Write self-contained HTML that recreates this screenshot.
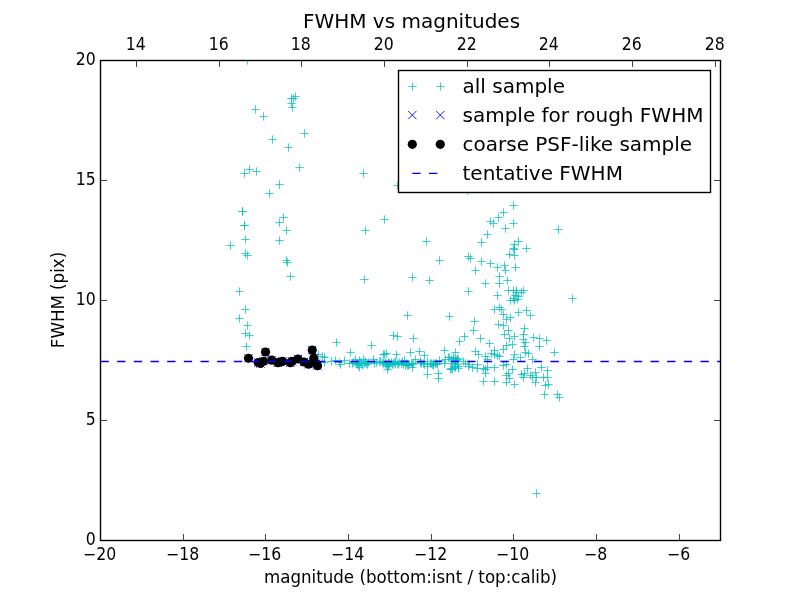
<!DOCTYPE html>
<html><head><meta charset="utf-8"><title>FWHM vs magnitudes</title>
<style>
html,body{margin:0;padding:0;background:#fff;}
body{width:800px;height:600px;overflow:hidden;}
svg{display:block;}
text{font-family:"DejaVu Sans","Liberation Sans",sans-serif;fill:#000;}
</style></head><body>
<svg width="800" height="600" viewBox="0 0 800 600">
<rect width="800" height="600" fill="#fff"/>
<defs><clipPath id="ax"><rect x="100" y="60" width="620" height="480"/></clipPath></defs>
<g clip-path="url(#ax)">
<path d="M243.33 60.5H251.67M247.5 56.33V64.67M251.33 109.5H259.67M255.5 105.33V113.67M259.33 116.5H267.67M263.5 112.33V120.67M291.33 96.5H299.67M295.5 92.33V100.67M289.33 98.5H297.67M293.5 94.33V102.67M287.33 98.5H295.67M291.5 94.33V102.67M287.33 103.5H295.67M291.5 99.33V107.67M288.33 107.5H296.67M292.5 103.33V111.67M300.33 133.5H308.67M304.5 129.33V137.67M268.33 139.5H276.67M272.5 135.33V143.67M284.33 147.5H292.67M288.5 143.33V151.67M295.33 167.5H303.67M299.5 163.33V171.67M245.33 169.5H253.67M249.5 165.33V173.67M240.33 173.5H248.67M244.5 169.33V177.67M252.33 171.5H260.67M256.5 167.33V175.67M359.33 173.5H367.67M363.5 169.33V177.67M275.33 184.5H283.67M279.5 180.33V188.67M265.33 193.5H273.67M269.5 189.33V197.67M393.33 185.5H401.67M397.5 181.33V189.67M238.33 211.5H246.67M242.5 207.33V215.67M240.33 225.5H248.67M244.5 221.33V229.67M241.33 239.5H249.67M245.5 235.33V243.67M226.33 245.5H234.67M230.5 241.33V249.67M241.33 253.5H249.67M245.5 249.33V257.67M243.33 255.5H251.67M247.5 251.33V259.67M279.33 217.5H287.67M283.5 213.33V221.67M275.33 222.5H283.67M279.5 218.33V226.67M282.33 230.5H290.67M286.5 226.33V234.67M275.33 240.5H283.67M279.5 236.33V244.67M282.33 260.5H290.67M286.5 256.33V264.67M283.33 262.5H291.67M287.5 258.33V266.67M286.33 276.5H294.67M290.5 272.33V280.67M380.33 219.5H388.67M384.5 215.33V223.67M361.33 230.5H369.67M365.5 226.33V234.67M360.33 279.5H368.67M364.5 275.33V283.67M235.33 291.5H243.67M239.5 287.33V295.67M241.33 309.5H249.67M245.5 305.33V313.67M235.33 318.5H243.67M239.5 314.33V322.67M243.33 325.5H251.67M247.5 321.33V329.67M241.33 333.5H249.67M245.5 329.33V337.67M245.33 335.5H253.67M249.5 331.33V339.67M242.33 346.5H250.67M246.5 342.33V350.67M332.33 342.5H340.67M336.5 338.33V346.67M367.33 345.5H375.67M371.5 341.33V349.67M346.33 352.5H354.67M350.5 348.33V356.67M314.33 354.5H322.67M318.5 350.33V358.67M318.33 356.5H326.67M322.5 352.33V360.67M320.33 357.5H328.67M324.5 353.33V361.67M320.33 362.5H328.67M324.5 358.33V366.67M327.33 361.5H335.67M331.5 357.33V365.67M331.33 360.5H339.67M335.5 356.33V364.67M335.33 362.5H343.67M339.5 358.33V366.67M336.33 364.5H344.67M340.5 360.33V368.67M340.33 360.5H348.67M344.5 356.33V364.67M345.33 363.5H353.67M349.5 359.33V367.67M348.33 363.5H356.67M352.5 359.33V367.67M351.33 359.5H359.67M355.5 355.33V363.67M353.33 364.5H361.67M357.5 360.33V368.67M355.33 360.5H363.67M359.5 356.33V364.67M355.33 367.5H363.67M359.5 363.33V371.67M357.33 363.5H365.67M361.5 359.33V367.67M359.33 359.5H367.67M363.5 355.33V363.67M360.33 363.5H368.67M364.5 359.33V367.67M363.33 364.5H371.67M367.5 360.33V368.67M369.33 359.5H377.67M373.5 355.33V363.67M370.33 363.5H378.67M374.5 359.33V367.67M375.33 361.5H383.67M379.5 357.33V365.67M379.33 354.5H387.67M383.5 350.33V358.67M382.33 353.5H390.67M386.5 349.33V357.67M378.33 362.5H386.67M382.5 358.33V366.67M381.33 363.5H389.67M385.5 359.33V367.67M383.33 365.5H391.67M387.5 361.33V369.67M385.33 363.5H393.67M389.5 359.33V367.67M389.33 335.5H397.67M393.5 331.33V339.67M393.33 336.5H401.67M397.5 332.33V340.67M409.33 338.5H417.67M413.5 334.33V342.67M460.33 336.5H468.67M464.5 332.33V340.67M455.33 341.5H463.67M459.5 337.33V345.67M392.33 354.5H400.67M396.5 350.33V358.67M406.33 352.5H414.67M410.5 348.33V356.67M415.33 351.5H423.67M419.5 347.33V355.67M420.33 355.5H428.67M424.5 351.33V359.67M440.33 350.5H448.67M444.5 346.33V354.67M451.33 352.5H459.67M455.5 348.33V356.67M423.33 374.5H431.67M427.5 370.33V378.67M434.33 373.5H442.67M438.5 369.33V377.67M434.33 378.5H442.67M438.5 374.33V382.67M387.33 362.5H395.67M391.5 358.33V366.67M389.33 363.5H397.67M393.5 359.33V367.67M391.33 361.5H399.67M395.5 357.33V365.67M393.33 363.5H401.67M397.5 359.33V367.67M395.33 362.5H403.67M399.5 358.33V366.67M398.33 361.5H406.67M402.5 357.33V365.67M400.33 360.5H408.67M404.5 356.33V364.67M401.33 365.5H409.67M405.5 361.33V369.67M404.33 365.5H412.67M408.5 361.33V369.67M408.33 367.5H416.67M412.5 363.33V371.67M409.33 363.5H417.67M413.5 359.33V367.67M411.33 359.5H419.67M415.5 355.33V363.67M416.33 361.5H424.67M420.5 357.33V365.67M420.33 364.5H428.67M424.5 360.33V368.67M423.33 366.5H431.67M427.5 362.33V370.67M423.33 361.5H431.67M427.5 357.33V365.67M427.33 363.5H435.67M431.5 359.33V367.67M429.33 365.5H437.67M433.5 361.33V369.67M432.33 363.5H440.67M436.5 359.33V367.67M435.33 360.5H443.67M439.5 356.33V364.67M440.33 363.5H448.67M444.5 359.33V367.67M441.33 359.5H449.67M445.5 355.33V363.67M444.33 357.5H452.67M448.5 353.33V361.67M446.33 369.5H454.67M450.5 365.33V373.67M448.33 369.5H456.67M452.5 365.33V373.67M449.33 358.5H457.67M453.5 354.33V362.67M450.33 364.5H458.67M454.5 360.33V368.67M451.33 366.5H459.67M455.5 362.33V370.67M452.33 360.5H460.67M456.5 356.33V364.67M454.33 368.5H462.67M458.5 364.33V372.67M454.33 359.5H462.67M458.5 355.33V363.67M459.33 361.5H467.67M463.5 357.33V365.67M461.33 363.5H469.67M465.5 359.33V367.67M464.33 366.5H472.67M468.5 362.33V370.67M465.33 364.5H473.67M469.5 360.33V368.67M476.33 338.5H484.67M480.5 334.33V342.67M485.33 343.5H493.67M489.5 339.33V347.67M471.33 351.5H479.67M475.5 347.33V355.67M474.33 354.5H482.67M478.5 350.33V358.67M481.33 356.5H489.67M485.5 352.33V360.67M483.33 359.5H491.67M487.5 355.33V363.67M487.33 353.5H495.67M491.5 349.33V357.67M490.33 350.5H498.67M494.5 346.33V354.67M490.33 354.5H498.67M494.5 350.33V358.67M493.33 355.5H501.67M497.5 351.33V359.67M495.33 356.5H503.67M499.5 352.33V360.67M499.33 349.5H507.67M503.5 345.33V353.67M502.33 345.5H510.67M506.5 341.33V349.67M505.33 338.5H513.67M509.5 334.33V342.67M508.33 344.5H516.67M512.5 340.33V348.67M510.33 336.5H518.67M514.5 332.33V340.67M510.33 354.5H518.67M514.5 350.33V358.67M509.33 359.5H517.67M513.5 355.33V363.67M516.33 357.5H524.67M520.5 353.33V361.67M519.33 339.5H527.67M523.5 335.33V343.67M521.33 342.5H529.67M525.5 338.33V346.67M520.33 346.5H528.67M524.5 342.33V350.67M521.33 352.5H529.67M525.5 348.33V356.67M524.33 353.5H532.67M528.5 349.33V357.67M528.33 359.5H536.67M532.5 355.33V363.67M529.33 337.5H537.67M533.5 333.33V341.67M535.33 338.5H543.67M539.5 334.33V342.67M535.33 346.5H543.67M539.5 342.33V350.67M542.33 340.5H550.67M546.5 336.33V344.67M473.33 364.5H481.67M477.5 360.33V368.67M473.33 368.5H481.67M477.5 364.33V372.67M468.33 367.5H476.67M472.5 363.33V371.67M479.33 368.5H487.67M483.5 364.33V372.67M481.33 369.5H489.67M485.5 365.33V373.67M481.33 373.5H489.67M485.5 369.33V377.67M483.33 367.5H491.67M487.5 363.33V371.67M490.33 367.5H498.67M494.5 363.33V371.67M479.33 381.5H487.67M483.5 377.33V385.67M490.33 381.5H498.67M494.5 377.33V385.67M499.33 365.5H507.67M503.5 361.33V369.67M502.33 364.5H510.67M506.5 360.33V368.67M502.33 375.5H510.67M506.5 371.33V379.67M502.33 382.5H510.67M506.5 378.33V386.67M504.33 373.5H512.67M508.5 369.33V377.67M505.33 378.5H513.67M509.5 374.33V382.67M508.33 369.5H516.67M512.5 365.33V373.67M510.33 384.5H518.67M514.5 380.33V388.67M517.33 374.5H525.67M521.5 370.33V378.67M519.33 377.5H527.67M523.5 373.33V381.67M520.33 373.5H528.67M524.5 369.33V377.67M523.33 368.5H531.67M527.5 364.33V372.67M526.33 375.5H534.67M530.5 371.33V379.67M528.33 377.5H536.67M532.5 373.33V381.67M531.33 372.5H539.67M535.5 368.33V376.67M531.33 382.5H539.67M535.5 378.33V386.67M532.33 377.5H540.67M536.5 373.33V381.67M537.33 367.5H545.67M541.5 363.33V371.67M539.33 377.5H547.67M543.5 373.33V381.67M543.33 370.5H551.67M547.5 366.33V374.67M543.33 377.5H551.67M547.5 373.33V381.67M541.33 385.5H549.67M545.5 381.33V389.67M544.33 384.5H552.67M548.5 380.33V388.67M540.33 394.5H548.67M544.5 390.33V398.67M463.33 190.5H471.67M467.5 186.33V194.67M487.33 189.5H495.67M491.5 185.33V193.67M509.33 205.5H517.67M513.5 201.33V209.67M499.33 212.5H507.67M503.5 208.33V216.67M494.33 217.5H502.67M498.5 213.33V221.67M486.33 221.5H494.67M490.5 217.33V225.67M489.33 223.5H497.67M493.5 219.33V227.67M509.33 223.5H517.67M513.5 219.33V227.67M501.33 228.5H509.67M505.5 224.33V232.67M483.33 234.5H491.67M487.5 230.33V238.67M477.33 242.5H485.67M481.5 238.33V246.67M554.33 229.5H562.67M558.5 225.33V233.67M422.33 241.5H430.67M426.5 237.33V245.67M514.33 241.5H522.67M518.5 237.33V245.67M510.33 244.5H518.67M514.5 240.33V248.67M509.33 248.5H517.67M513.5 244.33V252.67M522.33 248.5H530.67M526.5 244.33V252.67M505.33 254.5H513.67M509.5 250.33V258.67M510.33 255.5H518.67M514.5 251.33V259.67M464.33 256.5H472.67M468.5 252.33V260.67M466.33 258.5H474.67M470.5 254.33V262.67M435.33 260.5H443.67M439.5 256.33V264.67M477.33 261.5H485.67M481.5 257.33V265.67M486.33 263.5H494.67M490.5 259.33V267.67M493.33 267.5H501.67M497.5 263.33V271.67M500.33 265.5H508.67M504.5 261.33V269.67M501.33 270.5H509.67M505.5 266.33V274.67M511.33 267.5H519.67M515.5 263.33V271.67M471.33 270.5H479.67M475.5 266.33V274.67M408.33 277.5H416.67M412.5 273.33V281.67M425.33 280.5H433.67M429.5 276.33V284.67M495.33 276.5H503.67M499.5 272.33V280.67M503.33 280.5H511.67M507.5 276.33V284.67M481.33 283.5H489.67M485.5 279.33V287.67M495.33 283.5H503.67M499.5 279.33V287.67M464.33 291.5H472.67M468.5 287.33V295.67M493.33 295.5H501.67M497.5 291.33V299.67M504.33 290.5H512.67M508.5 286.33V294.67M509.33 290.5H517.67M513.5 286.33V294.67M512.33 290.5H520.67M516.5 286.33V294.67M512.33 292.5H520.67M516.5 288.33V296.67M517.33 292.5H525.67M521.5 288.33V296.67M519.33 290.5H527.67M523.5 286.33V294.67M511.33 295.5H519.67M515.5 291.33V299.67M514.33 296.5H522.67M518.5 292.33V300.67M509.33 298.5H517.67M513.5 294.33V302.67M506.33 300.5H514.67M510.5 296.33V304.67M513.33 299.5H521.67M517.5 295.33V303.67M510.33 300.5H518.67M514.5 296.33V304.67M568.33 298.5H576.67M572.5 294.33V302.67M490.33 309.5H498.67M494.5 305.33V313.67M495.33 307.5H503.67M499.5 303.33V311.67M497.33 309.5H505.67M501.5 305.33V313.67M499.33 314.5H507.67M503.5 310.33V318.67M514.33 312.5H522.67M518.5 308.33V316.67M522.33 310.5H530.67M526.5 306.33V314.67M526.33 315.5H534.67M530.5 311.33V319.67M506.33 317.5H514.67M510.5 313.33V321.67M502.33 319.5H510.67M506.5 315.33V323.67M470.33 321.5H478.67M474.5 317.33V325.67M494.33 324.5H502.67M498.5 320.33V328.67M499.33 325.5H507.67M503.5 321.33V329.67M469.33 330.5H477.67M473.5 326.33V334.67M520.33 328.5H528.67M524.5 324.33V332.67M504.33 330.5H512.67M508.5 326.33V334.67M500.33 334.5H508.67M504.5 330.33V338.67M519.33 334.5H527.67M523.5 330.33V338.67M403.33 315.5H411.67M407.5 311.33V319.67M445.33 316.5H453.67M449.5 312.33V320.67M532.33 493.5H540.67M536.5 489.33V497.67M553.33 394.5H561.67M557.5 390.33V398.67M555.33 397.5H563.67M559.5 393.33V401.67M550.33 352.5H558.67M554.5 348.33V356.67M349.33 362.5H357.67M353.5 358.33V366.67M352.33 363.5H360.67M356.5 359.33V367.67M354.33 365.5H362.67M358.5 361.33V369.67M356.33 362.5H364.67M360.5 358.33V366.67M358.33 365.5H366.67M362.5 361.33V369.67M361.33 361.5H369.67M365.5 357.33V365.67M362.33 363.5H370.67M366.5 359.33V367.67M364.33 362.5H372.67M368.5 358.33V366.67M372.33 362.5H380.67M376.5 358.33V366.67M376.33 361.5H384.67M380.5 357.33V365.67M380.33 354.5H388.67M384.5 350.33V358.67M379.33 363.5H387.67M383.5 359.33V367.67M381.33 362.5H389.67M385.5 358.33V366.67M382.33 364.5H390.67M386.5 360.33V368.67M384.33 362.5H392.67M388.5 358.33V366.67M385.33 364.5H393.67M389.5 360.33V368.67M384.33 366.5H392.67M388.5 362.33V370.67M383.33 369.5H391.67M387.5 365.33V373.67M388.33 364.5H396.67M392.5 360.33V368.67M390.33 362.5H398.67M394.5 358.33V366.67M391.33 364.5H399.67M395.5 360.33V368.67M394.33 364.5H402.67M398.5 360.33V368.67M397.33 363.5H405.67M401.5 359.33V367.67M399.33 364.5H407.67M403.5 360.33V368.67M402.33 363.5H410.67M406.5 359.33V367.67M403.33 365.5H411.67M407.5 361.33V369.67M405.33 364.5H413.67M409.5 360.33V368.67M407.33 363.5H415.67M411.5 359.33V367.67M408.33 364.5H416.67M412.5 360.33V368.67M416.33 362.5H424.67M420.5 358.33V366.67M417.33 363.5H425.67M421.5 359.33V367.67M419.33 363.5H427.67M423.5 359.33V367.67M426.33 363.5H434.67M430.5 359.33V367.67M428.33 364.5H436.67M432.5 360.33V368.67M429.33 363.5H437.67M433.5 359.33V367.67M431.33 363.5H439.67M435.5 359.33V367.67M433.33 364.5H441.67M437.5 360.33V368.67M445.33 357.5H453.67M449.5 353.33V361.67M447.33 359.5H455.67M451.5 355.33V363.67M449.33 357.5H457.67M453.5 353.33V361.67M451.33 360.5H459.67M455.5 356.33V364.67M453.33 358.5H461.67M457.5 354.33V362.67M448.33 363.5H456.67M452.5 359.33V367.67M450.33 366.5H458.67M454.5 362.33V370.67M451.33 367.5H459.67M455.5 363.33V371.67M447.33 368.5H455.67M451.5 364.33V372.67M453.33 364.5H461.67M457.5 360.33V368.67M454.33 366.5H462.67M458.5 362.33V370.67M510.33 249.5H518.67M514.5 245.33V253.67M238.33 211.5H246.67M242.5 207.33V215.67M240.33 225.5H248.67M244.5 221.33V229.67" stroke="#00bfbf" stroke-opacity="0.74" stroke-width="1" fill="none"/>
<path d="M244.33 354.08L252.67 362.42M244.33 362.42L252.67 354.08M261.33 347.83L269.67 356.17M261.33 356.17L269.67 347.83M254.08 358.33L262.42 366.67M254.08 366.67L262.42 358.33M256.33 359.33L264.67 367.67M256.33 367.67L264.67 359.33M259.33 357.08L267.67 365.42M259.33 365.42L267.67 357.08M267.58 356.03L275.92 364.37M267.58 364.37L275.92 356.03M273.58 358.58L281.92 366.92M273.58 366.92L281.92 358.58M275.83 357.83L284.17 366.17M275.83 366.17L284.17 357.83M278.33 357.23L286.67 365.57M278.33 365.57L286.67 357.23M286.33 358.58L294.67 366.92M286.33 366.92L294.67 358.58M287.83 357.08L296.17 365.42M287.83 365.42L296.17 357.08M293.83 354.83L302.17 363.17M293.83 363.17L302.17 354.83M299.83 357.83L308.17 366.17M299.83 366.17L308.17 357.83M304.33 360.08L312.67 368.42M304.33 368.42L312.67 360.08M308.08 345.83L316.42 354.17M308.08 354.17L316.42 345.83M309.58 354.08L317.92 362.42M309.58 362.42L317.92 354.08M311.83 359.33L320.17 367.67M311.83 367.67L320.17 359.33M313.33 361.58L321.67 369.92M313.33 369.92L321.67 361.58" stroke="#0000ff" stroke-width="0.9" fill="none"/>
<g fill="#000"><circle cx="248.50" cy="358.25" r="4.6"/><circle cx="265.50" cy="352.00" r="4.6"/><circle cx="258.25" cy="362.50" r="4.6"/><circle cx="260.50" cy="363.50" r="4.6"/><circle cx="263.50" cy="361.25" r="4.6"/><circle cx="271.75" cy="360.20" r="4.6"/><circle cx="277.75" cy="362.75" r="4.6"/><circle cx="280.00" cy="362.00" r="4.6"/><circle cx="282.50" cy="361.40" r="4.6"/><circle cx="290.50" cy="362.75" r="4.6"/><circle cx="292.00" cy="361.25" r="4.6"/><circle cx="298.00" cy="359.00" r="4.6"/><circle cx="304.00" cy="362.00" r="4.6"/><circle cx="308.50" cy="364.25" r="4.6"/><circle cx="312.25" cy="350.00" r="4.6"/><circle cx="313.75" cy="358.25" r="4.6"/><circle cx="316.00" cy="363.50" r="4.6"/><circle cx="317.50" cy="365.75" r="4.6"/></g>
<path d="M100.5 361.5H720" stroke="#0000ff" stroke-width="1.39" stroke-dasharray="8.333 8.333" fill="none"/>
</g>
<path d="M100.5 540V534M183.5 540V534M265.5 540V534M348.5 540V534M431.5 540V534M513.5 540V534M596.5 540V534M679.5 540V534M136.5 61V67M219.5 61V67M301.5 61V67M384.5 61V67M467.5 61V67M549.5 61V67M632.5 61V67M715.5 61V67M101 540.5H107M720 540.5H714M101 420.5H107M720 420.5H714M101 300.5H107M720 300.5H714M101 180.5H107M720 180.5H714M101 60.5H107M720 60.5H714" stroke="#000" stroke-opacity="0.72" stroke-width="1" fill="none"/>
<rect x="100.5" y="60.5" width="620" height="480" fill="none" stroke="#000" stroke-width="1.39"/>
<text transform="translate(99.70,560.00) scale(0.925,1)" text-anchor="middle" font-size="17px">−20</text><text transform="translate(182.70,560.00) scale(0.925,1)" text-anchor="middle" font-size="17px">−18</text><text transform="translate(264.70,560.00) scale(0.925,1)" text-anchor="middle" font-size="17px">−16</text><text transform="translate(347.70,560.00) scale(0.925,1)" text-anchor="middle" font-size="17px">−14</text><text transform="translate(430.70,560.00) scale(0.925,1)" text-anchor="middle" font-size="17px">−12</text><text transform="translate(512.70,560.00) scale(0.925,1)" text-anchor="middle" font-size="17px">−10</text><text transform="translate(595.70,560.00) scale(0.925,1)" text-anchor="middle" font-size="17px">−8</text><text transform="translate(678.70,560.00) scale(0.925,1)" text-anchor="middle" font-size="17px">−6</text><text transform="translate(135.80,49.80) scale(0.925,1)" text-anchor="middle" font-size="17px">14</text><text transform="translate(218.80,49.80) scale(0.925,1)" text-anchor="middle" font-size="17px">16</text><text transform="translate(300.80,49.80) scale(0.925,1)" text-anchor="middle" font-size="17px">18</text><text transform="translate(383.80,49.80) scale(0.925,1)" text-anchor="middle" font-size="17px">20</text><text transform="translate(466.80,49.80) scale(0.925,1)" text-anchor="middle" font-size="17px">22</text><text transform="translate(548.80,49.80) scale(0.925,1)" text-anchor="middle" font-size="17px">24</text><text transform="translate(631.80,49.80) scale(0.925,1)" text-anchor="middle" font-size="17px">26</text><text transform="translate(714.80,49.80) scale(0.925,1)" text-anchor="middle" font-size="17px">28</text><text transform="translate(95.80,545.20) scale(0.925,1)" text-anchor="end" font-size="17px">0</text><text transform="translate(95.80,425.20) scale(0.925,1)" text-anchor="end" font-size="17px">5</text><text transform="translate(95.80,305.20) scale(0.925,1)" text-anchor="end" font-size="17px">10</text><text transform="translate(95.80,185.20) scale(0.925,1)" text-anchor="end" font-size="17px">15</text><text transform="translate(95.80,65.20) scale(0.925,1)" text-anchor="end" font-size="17px">20</text>
<text transform="translate(411.50,28.40) scale(1,1)" text-anchor="middle" font-size="20px">FWHM vs magnitudes</text>
<text transform="translate(410.50,583.30) scale(0.98,1)" text-anchor="middle" font-size="17px">magnitude (bottom:isnt / top:calib)</text>
<text transform="translate(63.80,300.00) rotate(-90) scale(0.98,1)" text-anchor="middle" font-size="17px">FWHM (pix)</text>
<g>
<rect x="398.5" y="70.5" width="312" height="122" fill="#fff" stroke="#000" stroke-width="1.39"/>
<path d="M408.33 86.5H416.67M412.5 82.33V90.67M436.33 86.5H444.67M440.5 82.33V90.67" stroke="#00bfbf" stroke-opacity="0.74" stroke-width="1" fill="none"/>
<path d="M408.13 110.93L416.47 119.27M408.13 119.27L416.47 110.93M436.13 110.93L444.47 119.27M436.13 119.27L444.47 110.93" stroke="#0000ff" stroke-width="0.9" fill="none"/>
<circle cx="412.3" cy="144.3" r="4.6"/><circle cx="440.3" cy="144.3" r="4.6"/>
<path d="M412.3 173.4H440.3" stroke="#0000ff" stroke-width="1.39" stroke-dasharray="8.333 8.333" fill="none"/>
<g font-size="20px">
<text x="462.5" y="93.2">all sample</text>
<text x="462.5" y="122">sample for rough FWHM</text>
<text x="462.5" y="150.8">coarse PSF-like sample</text>
<text x="462.5" y="179.6">tentative FWHM</text>
</g></g>
</svg>
</body></html>
